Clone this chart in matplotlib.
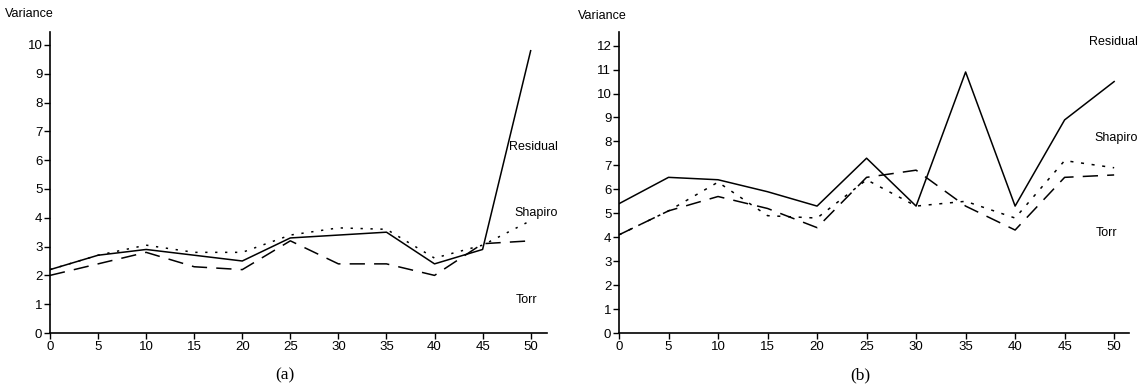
import matplotlib
matplotlib.use("Agg")
import matplotlib.pyplot as plt

x = [0, 5, 10, 15, 20, 25, 30, 35, 40, 45, 50]

# Panel (a)
a_residual = [2.2, 2.7, 2.9, 2.7, 2.5, 3.3, 3.4, 3.5, 2.4, 2.9, 9.8]
a_shapiro = [2.2, 2.7, 3.05, 2.8, 2.8, 3.4, 3.65, 3.6, 2.6, 3.05, 3.9]
a_torr = [2.0, 2.4, 2.8, 2.3, 2.2, 3.2, 2.4, 2.4, 2.0, 3.1, 3.2]

# Panel (b)
b_residual = [5.4, 6.5, 6.4, 5.9, 5.3, 7.3, 5.3, 10.9, 5.3, 8.9, 10.5]
b_shapiro = [4.1, 5.1, 6.3, 4.9, 4.8, 6.4, 5.3, 5.5, 4.8, 7.2, 6.9]
b_torr = [4.1, 5.1, 5.7, 5.2, 4.4, 6.5, 6.8, 5.3, 4.3, 6.5, 6.6]

a_yticks = list(range(0, 11))
b_yticks = list(range(0, 13))
xticks = [0, 5, 10, 15, 20, 25, 30, 35, 40, 45, 50]

plt.rcParams['font.family'] = ['Liberation Sans', 'DejaVu Sans']

fig = plt.figure(figsize=(11.45, 3.87), dpi=100)
axA = fig.add_axes([50/1145, 54/387, 497/1145, 301/387])
axB = fig.add_axes([619/1145, 54/387, 510/1145, 301/387])

def style(ax, ylim, xlim, yticks):
    ax.set_xlim(0, xlim)
    ax.set_ylim(0, ylim)
    ax.set_xticks(xticks)
    ax.set_yticks(yticks)
    for s in ['top', 'right']:
        ax.spines[s].set_visible(False)
    for s in ['left', 'bottom']:
        ax.spines[s].set_linewidth(1.2)
    ax.tick_params(axis='both', direction='out', length=4, width=1.0,
                   labelsize=9.5, pad=1.5, colors='black')

lw = 1.1
axA.plot(x, a_residual, color='black', lw=lw, linestyle='-')
axA.plot(x, a_shapiro, color='black', lw=lw, linestyle=(0, (1.5, 5)))
axA.plot(x, a_torr, color='black', lw=lw, linestyle=(0, (10, 6)))
style(axA, 10.45, 51.7, a_yticks)
axA.text(47.75, 6.45, 'Residual', fontsize=9, va='center', ha='left')
axA.text(48.3, 4.17, 'Shapiro', fontsize=9, va='center', ha='left')
axA.text(48.4, 1.15, 'Torr', fontsize=9, va='center', ha='left')

axB.plot(x, b_residual, color='black', lw=lw, linestyle='-')
axB.plot(x, b_shapiro, color='black', lw=lw, linestyle=(0, (2, 5)))
axB.plot(x, b_torr, color='black', lw=lw, linestyle=(0, (10, 6)))
style(axB, 12.57, 51.5, b_yticks)
axB.text(47.5, 12.15, 'Residual', fontsize=9, va='center', ha='left')
axB.text(48.0, 8.16, 'Shapiro', fontsize=9, va='center', ha='left')
axB.text(48.1, 4.17, 'Torr', fontsize=9, va='center', ha='left')

fig.text(5/1145, 1 - 14/387, 'Variance', fontsize=9, va='center', ha='left')
fig.text(578/1145, 1 - 16/387, 'Variance', fontsize=9, va='center', ha='left')
fig.text(285/1145, 1 - 375/387, '(a)', fontsize=12.5, va='center', ha='center',
         family=['Liberation Serif', 'DejaVu Serif'])
fig.text(860/1145, 1 - 375/387, '(b)', fontsize=12.5, va='center', ha='center',
         family=['Liberation Serif', 'DejaVu Serif'])

fig.savefig('out.png', dpi=100, facecolor='white')
